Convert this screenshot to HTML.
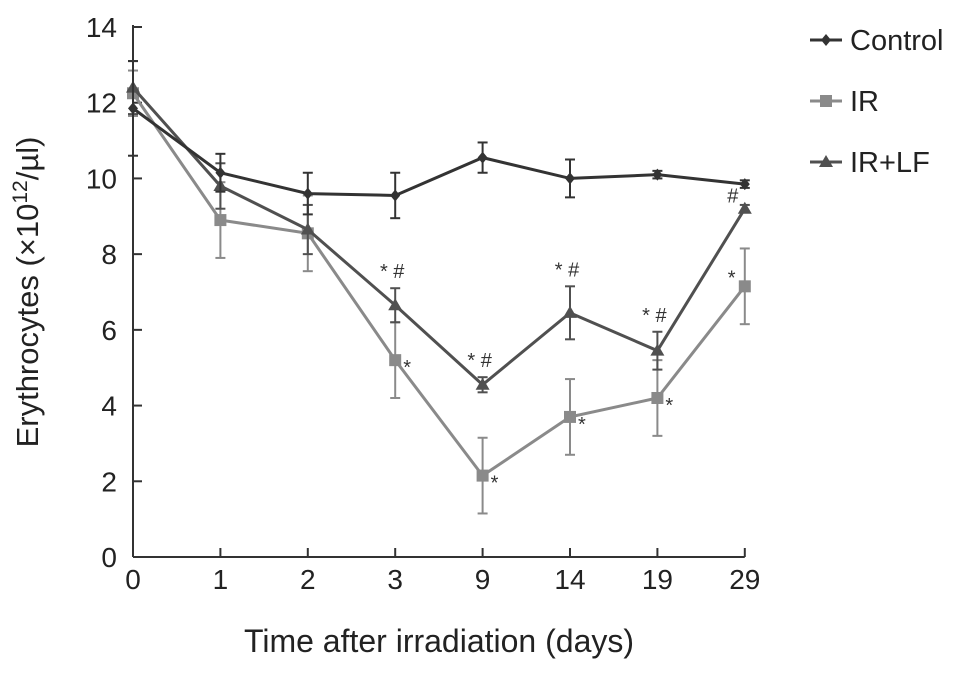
<!DOCTYPE html>
<html><head><meta charset="utf-8"><style>
body{margin:0;background:#fff;}
svg text{font-family:"Liberation Sans",Arial,sans-serif;}
</style></head><body>
<svg id="chart" width="969" height="676" viewBox="0 0 969 676" xmlns="http://www.w3.org/2000/svg"></svg>
<script>
const categories=["0","1","2","3","9","14","19","29"];
const yTicks=[0,2,4,6,8,10,12,14];
const controlVals=[11.85,10.15,9.6,9.55,10.55,10.0,10.1,9.85];
const controlErr=[1.25,0.5,0.55,0.6,0.4,0.5,0.1,0.1];
const irVals=[12.25,8.9,8.55,5.2,2.15,3.7,4.2,7.15];
const irErr=[0.6,1.0,1.0,1.0,1.0,1.0,1.0,1.0];
const irlfVals=[12.4,9.8,8.65,6.65,4.55,6.45,5.45,9.2];
const irlfErr=[0.7,0.6,0.65,0.45,0.2,0.7,0.5,0.1];
const irMarks=["","","","*","*","*","*","*"];
const irlfMarks=["","","","* #","* #","* #","* #","#"];

const svg=document.getElementById('chart');
const NS="http://www.w3.org/2000/svg";
const x0=133,dx=87.4,yBase=557,yTop=27;
const xs=i=>x0+i*dx;
const ys=v=>yBase-(v/14)*(yBase-yTop);
function mk(tag,attrs,parent){const e=document.createElementNS(NS,tag);for(const k in attrs)e.setAttribute(k,attrs[k]);(parent||svg).appendChild(e);return e;}

const axes=mk('g',{});


mk('line',{x1:x0,y1:yTop-2,x2:x0,y2:yBase,stroke:'#333','stroke-width':2},axes);
mk('line',{x1:x0,y1:yBase,x2:xs(7),y2:yBase,stroke:'#333','stroke-width':2},axes);
yTicks.forEach(v=>{
  mk('line',{x1:x0,y1:ys(v),x2:x0+9,y2:ys(v),stroke:'#333','stroke-width':2},axes);
  const l=mk('text',{x:x0-16,y:ys(v)+10,'text-anchor':'end','font-size':28,fill:'#222'},axes);
  l.textContent=v;
  
  
});
categories.forEach((c,i)=>{
  mk('line',{x1:xs(i),y1:yBase,x2:xs(i),y2:yBase-9,stroke:'#333','stroke-width':2},axes);
  const l=mk('text',{x:xs(i),y:yBase+32,'text-anchor':'middle','font-size':28,fill:'#222'},axes);
  l.textContent=c;
  
  
});
const xt=mk('text',{x:439,y:652,'text-anchor':'middle','font-size':32,fill:'#222'});
xt.textContent='Time after irradiation (days)';


const yt=mk('text',{x:0,y:0,'text-anchor':'middle','font-size':31,fill:'#222',transform:'translate(38,292) rotate(-90)'});
yt.innerHTML='Erythrocytes (×10<tspan font-size="21" dy="-11">12</tspan><tspan dy="11">/µl)</tspan>';



function marker(type,x,y,color,g){
  if(type==='d')mk('polygon',{points:`${x},${y-6} ${x+5},${y} ${x},${y+6} ${x-5},${y}`,fill:color},g);
  else if(type==='s')mk('rect',{x:x-6,y:y-6,width:12,height:12,fill:color},g);
  else mk('polygon',{points:`${x},${y-7} ${x+7},${y+5} ${x-7},${y+5}`,fill:color},g);
}
function series(name,vals,err,color,type,marks,lw){
  const g=mk('g',{});
  
  
  vals.forEach((v,i)=>{
    const x=xs(i);
    mk('line',{x1:x,y1:ys(v-err[i]),x2:x,y2:ys(v+err[i]),stroke:color,'stroke-width':2},g);
    mk('line',{x1:x-5,y1:ys(v-err[i]),x2:x+5,y2:ys(v-err[i]),stroke:color,'stroke-width':2},g);
    mk('line',{x1:x-5,y1:ys(v+err[i]),x2:x+5,y2:ys(v+err[i]),stroke:color,'stroke-width':2},g);
  });
  mk('polyline',{points:vals.map((v,i)=>xs(i)+','+ys(v)).join(' '),fill:'none',stroke:color,'stroke-width':lw},g);
  vals.forEach((v,i)=>marker(type,xs(i),ys(v),color,g));
  if(marks)vals.forEach((v,i)=>{
    if(!marks[i])return;
    let t;
    if(name==='ir'){t=mk('text',{x:xs(i)+(i===7?-17:8),y:ys(v)+(i===7?-2:14),'font-size':20,fill:'#333'},g);}
    else if(marks[i]==='#'){t=mk('text',{x:xs(i)-12,y:ys(v)-6,'text-anchor':'middle','font-size':20,fill:'#333'},g);}
    else{t=mk('text',{x:xs(i)-3,y:ys(v+err[i])-10,'text-anchor':'middle','font-size':20,fill:'#333'},g);}
    t.textContent=marks[i];
    
    
  });
}
series('ir',irVals,irErr,'#8a8a8a','s',irMarks,3);
series('ir-lf',irlfVals,irlfErr,'#505050','t',irlfMarks,3);
series('control',controlVals,controlErr,'#333','d',null,3);

const legend=[['Control','#333','d',40],['IR','#8a8a8a','s',101],['IR+LF','#505050','t',162]];
legend.forEach(([n,c,t,y])=>{
  const g=mk('g',{});
  
  
  mk('line',{x1:810,y1:y,x2:842,y2:y,stroke:c,'stroke-width':3},g);
  marker(t,826,y,c,g);
  const tx=mk('text',{x:850,y:y+10,'font-size':29,fill:'#222'},g);
  tx.textContent=n;
});
</script>
</body></html>
